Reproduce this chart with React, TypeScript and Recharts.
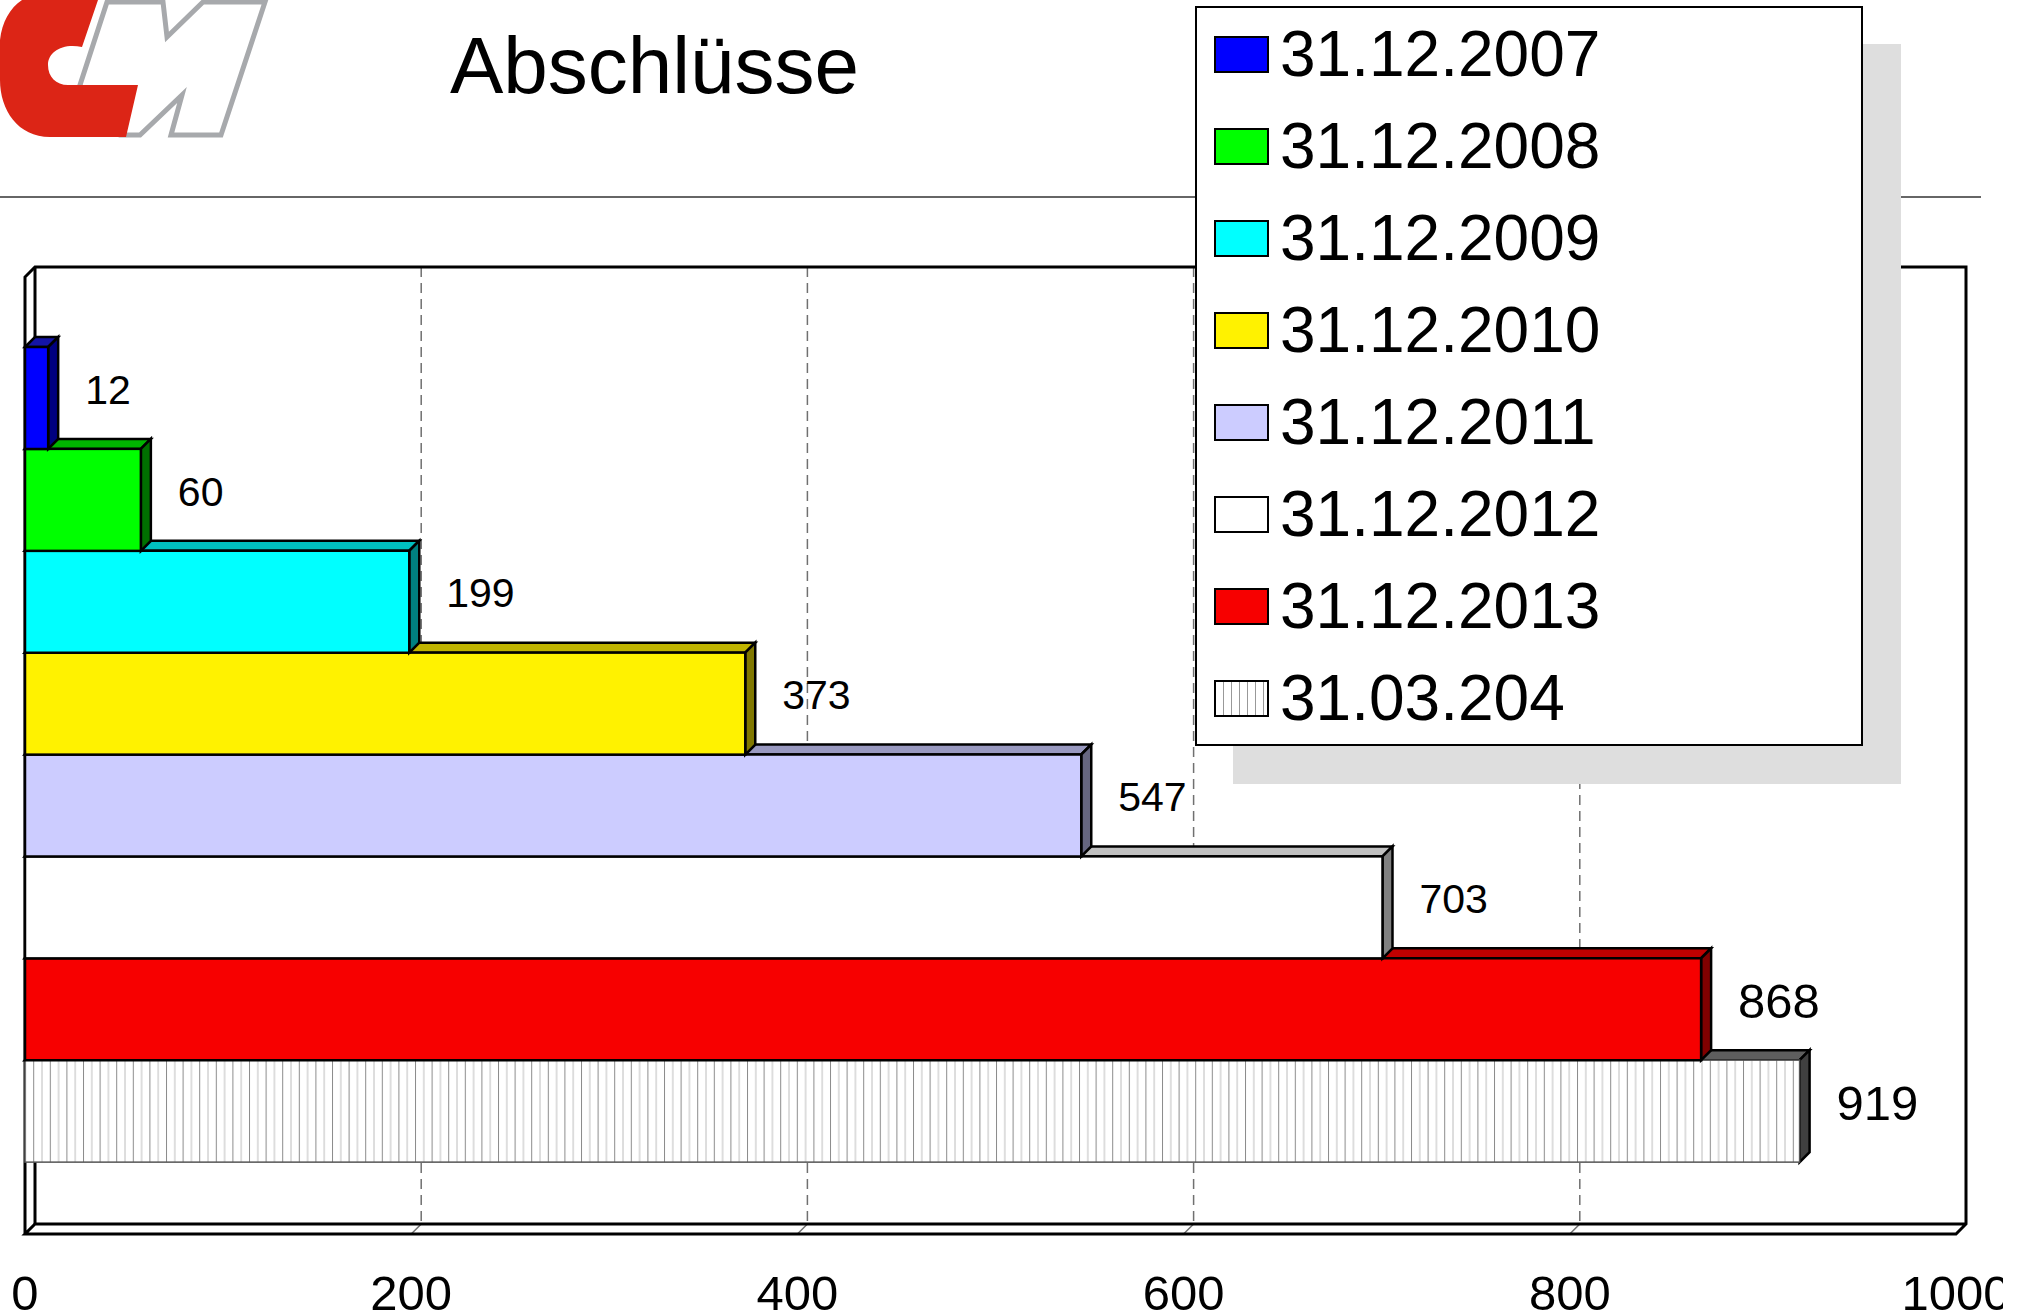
import {
  Bar,
  BarChart,
  CartesianGrid,
  Customized,
  LabelList,
  Legend,
  XAxis,
  YAxis,
} from "recharts";

const DATES = [
  "31.12.2007",
  "31.12.2008",
  "31.12.2009",
  "31.12.2010",
  "31.12.2011",
  "31.12.2012",
  "31.12.2013",
  "31.03.204",
];
const VALUES = [12, 60, 199, 373, 547, 703, 868, 919];
const X_TICKS = [0, 200, 400, 600, 800, 1000];

// front / top / side faces of each 3d bar
const FRONT_COLORS = ["#0000ff", "#00ff00", "#00ffff", "#fff200", "#ccccff", "#ffffff", "#f70000", "url(#hatch)"];
const TOP_COLORS = ["#1414a6", "#00b400", "#00c0c0", "#c0b400", "#9999c0", "#c0c0c0", "#c00000", "#5e5e5e"];
const SIDE_COLORS = ["#000080", "#007000", "#008080", "#807800", "#666680", "#808080", "#800000", "#404040"];
const LABEL_SIZES = [41, 41, 41, 41, 41, 41, 49, 49];

const FONT = '"Liberation Sans", Arial, Helvetica, sans-serif';
const W = 2003;
const H = 1316;
const MARGIN = { top: 277, right: 47, bottom: 22, left: 25 };
const X_AXIS_H = 60;
const DEPTH = 10;
const PLOT = {
  left: MARGIN.left,
  right: W - MARGIN.right,
  top: MARGIN.top,
  bottom: H - MARGIN.bottom - X_AXIS_H,
};

// bottom bar first so the bar above hides its top face
const CHART_DATA = DATES.map((date, i) => ({ date, value: VALUES[i], i })).reverse();

const C_PATH =
  "M 22 0 L 98 0 L 82 47 C 62 43, 48 52, 48 65 C 48 77, 56 85, 68 85 L 138 85 L 126 137 L 50 137 C 18 137, 0 110, 0 80 L 0 40 C 2 22, 10 8, 22 0 Z";
const M_PATH =
  "M 107 2 L 163 2 L 167 37 L 203 2 L 265 2 L 221 135 L 171 135 L 182 95 L 140 135 L 120 135 L 80 85 Z";

function Bar3D(props: any) {
  const { x, y, width, height, payload } = props;
  const i = payload.i;
  const d = DEPTH;
  const x2 = x + width;
  const y2 = y + height;
  const hatched = FRONT_COLORS[i].startsWith("url");
  return (
    <g>
      {hatched ? (
        <defs>
          <pattern id="hatch" patternUnits="userSpaceOnUse" width={16.6} height={10}>
            <rect width={16.6} height={10} fill="#ffffff" />
            <line x1={0.5} y1={0} x2={0.5} y2={10} stroke="#8c8c8c" strokeWidth={1} />
            <line x1={8.8} y1={0} x2={8.8} y2={10} stroke="#bdbdbd" strokeWidth={1} />
          </pattern>
        </defs>
      ) : null}
      <polygon
        points={`${x},${y} ${x + d},${y - d} ${x2 + d},${y - d} ${x2},${y}`}
        fill={TOP_COLORS[i]}
        stroke="#000"
        strokeWidth={2.5}
      />
      <polygon
        points={`${x2},${y} ${x2 + d},${y - d} ${x2 + d},${y2 - d} ${x2},${y2}`}
        fill={SIDE_COLORS[i]}
        stroke="#000"
        strokeWidth={2.5}
      />
      <rect
        x={x}
        y={y}
        width={width}
        height={height}
        fill={FRONT_COLORS[i]}
        stroke={hatched ? "#555" : "#000"}
        strokeWidth={hatched ? 1.5 : 2.5}
      />
    </g>
  );
}

function ValueLabel(props: any) {
  const { x, y, width, height, value, index } = props;
  const size = LABEL_SIZES[CHART_DATA[index].i];
  return (
    <text
      x={Number(x) + Number(width) + 37}
      y={Number(y) + Number(height) / 2 - 9 + size * 0.358}
      fontSize={size}
      fontFamily={FONT}
      fill="#000"
    >
      {value}
    </text>
  );
}

function XTick(props: any) {
  const { x, y, payload } = props;
  return (
    <text x={x} y={y + 76} textAnchor="middle" fontSize={49} fontFamily={FONT} fill="#000">
      {payload.value}
    </text>
  );
}

function GridLine(props: any) {
  const { x1, y1, y2, index } = props;
  if (x1 <= PLOT.left + 1 || x1 >= PLOT.right - 1) {
    return <g key={`g-${index}`} />;
  }
  return (
    <g key={`g-${index}`}>
      <line
        x1={x1 + DEPTH}
        y1={y1 - DEPTH}
        x2={x1 + DEPTH}
        y2={y2 - DEPTH}
        stroke="#707070"
        strokeWidth={1.5}
        strokeDasharray="10 6"
      />
      <line x1={x1} y1={y2} x2={x1 + DEPTH} y2={y2 - DEPTH} stroke="#707070" strokeWidth={1.5} />
    </g>
  );
}

function Frame() {
  const { left: L, right: R, top: T, bottom: B } = PLOT;
  const d = DEPTH;
  return (
    <g stroke="#000" strokeWidth={3} fill="none">
      <polyline
        points={`${L},${B} ${L},${T} ${L + d},${T - d} ${R + d},${T - d} ${R + d},${B - d} ${R},${B} ${L},${B} ${L + d},${B - d} ${R + d},${B - d}`}
      />
      <line x1={L + d} y1={T - d} x2={L + d} y2={B - d} />
    </g>
  );
}

function LegendBox() {
  return (
    <div
      style={{
        width: 668,
        boxSizing: "border-box",
        border: "2px solid #000",
        background: "#fff",
        boxShadow: "38px 38px 0 #dedede",
        fontFamily: FONT,
      }}
    >
      {DATES.map((date, i) => {
        const hatched = FRONT_COLORS[i].startsWith("url");
        return (
          <div
            key={date}
            style={{ height: 92, display: "flex", alignItems: "center", paddingLeft: 17 }}
          >
            <span
              style={{
                display: "inline-block",
                width: 55,
                height: 37,
                boxSizing: "border-box",
                border: "2px solid #000",
                background: hatched
                  ? "repeating-linear-gradient(90deg, #fff 0px, #fff 7px, #999 7px, #999 8px)"
                  : FRONT_COLORS[i],
              }}
            />
            <span style={{ marginLeft: 11, fontSize: 64, lineHeight: 1, color: "#000" }}>{date}</span>
          </div>
        );
      })}
    </div>
  );
}

export default function App() {
  return (
    <div
      style={{
        position: "absolute",
        left: 0,
        top: 0,
        width: 2033,
        height: 1316,
        background: "#fff",
        overflow: "hidden",
        fontFamily: FONT,
      }}
    >
      <svg width={2033} height={220} style={{ position: "absolute", left: 0, top: 0 }}>
        <path d={M_PATH} fill="#fff" stroke="#a7a9ac" strokeWidth={5} strokeLinejoin="miter" />
        <path d={C_PATH} fill="#dc2516" />
        <text x={450} y={93} fontSize={80} fontFamily={FONT} fill="#000">
          Abschlüsse
        </text>
        <line x1={0} y1={197} x2={1981} y2={197} stroke="#333" strokeWidth={1.5} />
      </svg>
      <div style={{ position: "absolute", left: 0, top: 0 }}>
        <BarChart
          width={W}
          height={H}
          data={CHART_DATA}
          layout="vertical"
          margin={MARGIN}
          barCategoryGap={0}
          barGap={0}
        >
          <CartesianGrid horizontal={false} vertical={(p: any) => <GridLine {...p} />} />
          <Customized component={<Frame />} />
          <XAxis
            type="number"
            domain={[0, 1000]}
            ticks={X_TICKS}
            interval={0}
            axisLine={false}
            tickLine={false}
            tickSize={0}
            tickMargin={0}
            height={X_AXIS_H}
            tick={(p: any) => <XTick {...p} />}
          />
          <YAxis
            type="category"
            dataKey="date"
            hide
            reversed
            width={0}
            padding={{ top: 70, bottom: 72 }}
          />
          <Legend
            layout="vertical"
            align="center"
            verticalAlign="middle"
            content={() => <LegendBox />}
            wrapperStyle={{ left: 1195, top: 6, width: 668 }}
          />
          <Bar
            dataKey="value"
            isAnimationActive={false}
            shape={(p: any) => <Bar3D {...p} />}
          >
            <LabelList dataKey="value" content={(p: any) => <ValueLabel {...p} />} />
          </Bar>
        </BarChart>
      </div>
    </div>
  );
}
